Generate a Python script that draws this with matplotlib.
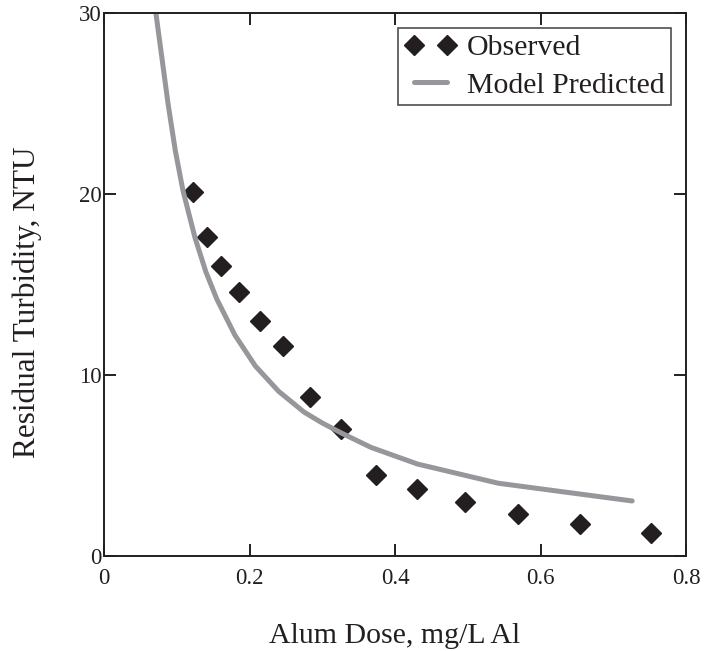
import matplotlib
matplotlib.use("Agg")
import matplotlib.pyplot as plt

# Observed data
obs_dose = [0.122, 0.141, 0.161, 0.185, 0.214, 0.246, 0.283, 0.326, 0.374, 0.430, 0.496, 0.569, 0.654, 0.752]
obs_turb = [20.1, 17.6, 16.0, 14.6, 13.0, 11.6, 8.8, 7.0, 4.5, 3.7, 3.0, 2.3, 1.75, 1.25]

# Model predicted curve
mod_dose = [0.0713, 0.080, 0.088, 0.098, 0.1085, 0.125, 0.140, 0.155, 0.180, 0.208, 0.240, 0.275, 0.300, 0.326, 0.367, 0.431, 0.542, 0.726]
mod_turb = [30.0, 27.4, 25.0, 22.4, 20.2, 17.6, 15.7, 14.2, 12.2, 10.5, 9.1, 7.95, 7.35, 6.8, 6.0, 5.08, 4.02, 3.04]

xticks = [0, 0.2, 0.4, 0.6, 0.8]
xticklabels = ["0", "0.2", "0.4", "0.6", "0.8"]
yticks = [0, 10, 20, 30]
yticklabels = ["0", "10", "20", "30"]

plt.rcParams['font.family'] = ['Liberation Serif', 'DejaVu Serif']
ink = '#231f20'

fig = plt.figure(figsize=(7.09, 6.51), dpi=100)
ax = fig.add_axes([104/709, 1 - 556/651, (686 - 104)/709, (556 - 13)/651])

ax.plot(obs_dose, obs_turb, linestyle='none', marker='D', markersize=10,
        color=ink, label='Observed')
ax.plot(mod_dose, mod_turb, color='#97979b', linewidth=3.6,
        solid_capstyle='round', label='Model Predicted')

ax.set_xlim(0, 0.8)
ax.set_ylim(0, 30)
ax.set_xticks(xticks)
ax.set_xticklabels(xticklabels)
ax.set_yticks(yticks)
ax.set_yticklabels(yticklabels)
ax.tick_params(direction='in', length=8.5, width=1.4, top=True, right=True,
               labelsize=16.5, colors=ink)
ax.tick_params(axis='x', pad=9)
ax.tick_params(axis='y', pad=1.5)
for s in ax.spines.values():
    s.set_linewidth(1.4)
    s.set_color(ink)

ax.set_xlabel('Alum Dose, mg/L Al', fontsize=21.5, color=ink, labelpad=24)
ax.set_ylabel('Residual Turbidity, NTU', fontsize=22.5, color=ink)
ax.yaxis.set_label_coords(-0.106, 0.468)

leg = ax.legend(loc='upper right', numpoints=2, fontsize=21.5, frameon=True,
                fancybox=False, edgecolor=ink, borderaxespad=0.5,
                handlelength=1.7, handletextpad=0.38, borderpad=0.22,
                labelspacing=0.35)
leg.get_frame().set_linewidth(1.2)
for t in leg.get_texts():
    t.set_color(ink)

fig.savefig('out.png', dpi=100)
